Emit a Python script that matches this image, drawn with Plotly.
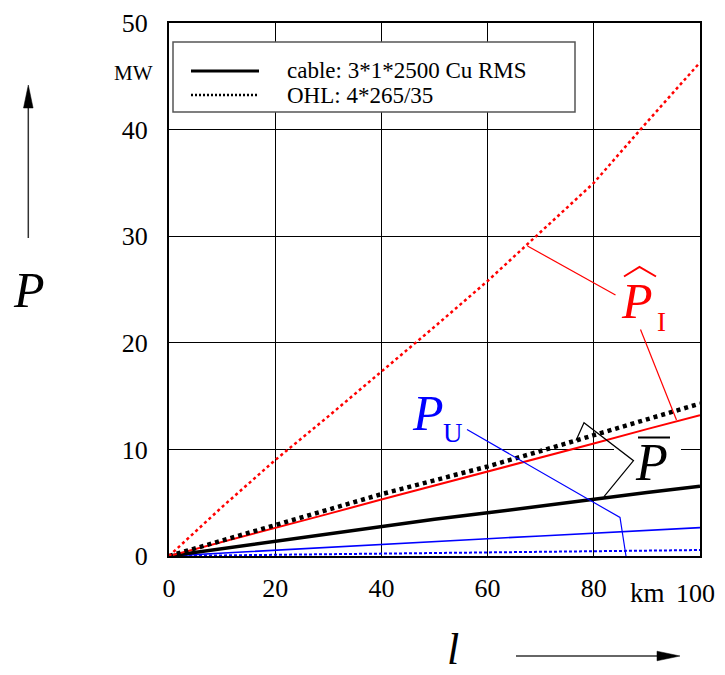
import plotly.graph_objects as go

# ---------------- data ----------------
length_km = [0, 10, 20, 30, 40, 50, 60, 70, 80, 90, 100]
p_i_ohl = [0, 4.6, 9.0, 13.1, 17.3, 21.5, 25.8, 30.4, 35.0, 40.7, 46.3]       # red dotted
p_i_cable = [0, 1.3, 2.65, 3.95, 5.3, 6.6, 7.9, 9.25, 10.55, 11.9, 13.2]      # red solid
p_bar_ohl = [0, 1.45, 2.95, 4.35, 5.8, 7.1, 8.4, 9.85, 11.3, 12.8, 14.3]      # black dotted
p_bar_cable = [0, 0.7, 1.4, 2.1, 2.8, 3.45, 4.05, 4.7, 5.3, 5.95, 6.55]       # black solid
p_u_cable = [0, 0.28, 0.56, 0.83, 1.1, 1.36, 1.62, 1.88, 2.14, 2.4, 2.66]     # blue solid
p_u_ohl = [0, 0.05, 0.11, 0.16, 0.22, 0.28, 0.33, 0.39, 0.45, 0.5, 0.56]      # blue dotted

x_ticks = [0, 20, 40, 60, 80]
x_last_tick = 100
y_ticks = [0, 10, 20, 30, 40, 50]
legend_labels = ["cable: 3*1*2500 Cu RMS", "OHL: 4*265/35"]

# ---------------- geometry helpers ----------------
OFF = 8                      # page body margin
W, H = 709, 667
ML, MR, MT, MB = 161, 17, 15, 119
PW, PH = W - ML - MR, H - MT - MB
XMAX, YMAX = 100, 50


def dx(sx):
    return (sx - OFF - ML) / PW * XMAX


def dy(sy):
    return (H - MB - (sy - OFF)) / PH * YMAX


def paperx(sx):
    return (sx - OFF - ML) / PW


def papery(sy):
    return (H - MB - (sy - OFF)) / PH


SERIF = "Liberation Serif, Times New Roman, serif"
RED, BLUE, BLACK = "#ff0000", "#0000ff", "#000000"

fig = go.Figure()


def add_line(y, color, width, dash):
    fig.add_trace(go.Scatter(x=length_km, y=y, mode="lines",
                             line=dict(color=color, width=width, dash=dash),
                             showlegend=False, hoverinfo="skip"))


add_line(p_u_ohl, BLUE, 2, "3px,2px")
add_line(p_u_cable, BLUE, 1.6, "solid")
add_line(p_bar_cable, BLACK, 3.5, "solid")
add_line(p_i_cable, RED, 2, "solid")
add_line(p_bar_ohl, BLACK, 4.5, "4px,4px")
add_line(p_i_ohl, RED, 2.5, "3px,3px")

shapes = []
annotations = []

# legend box
shapes.append(dict(type="rect", xref="paper", yref="paper", layer="above",
                   x0=paperx(173), x1=paperx(575), y0=papery(112), y1=papery(42),
                   fillcolor="white", line=dict(color="#555555", width=1.5)))
shapes.append(dict(type="line", xref="paper", yref="paper", layer="above",
                   x0=paperx(191), x1=paperx(259), y0=papery(71), y1=papery(71),
                   line=dict(color=BLACK, width=3)))
shapes.append(dict(type="line", xref="paper", yref="paper", layer="above",
                   x0=paperx(191), x1=paperx(259), y0=papery(95), y1=papery(95),
                   line=dict(color=BLACK, width=2.5, dash="2px,2px")))
for lbl, sy in zip(legend_labels, [71, 95]):
    annotations.append(dict(text=lbl, xref="paper", yref="paper", x=paperx(285), y=papery(sy),
                            xanchor="left", yanchor="middle", showarrow=False,
                            font=dict(family=SERIF, size=23, color=BLACK)))

# white box behind P-bar label (gridline break)
shapes.append(dict(type="rect", xref="x", yref="y", layer="above",
                   x0=dx(614), x1=dx(681), y0=dy(482), y1=dy(443),
                   fillcolor="white", line=dict(width=0)))


def path(points, color, width):
    d = "M " + " L ".join(f"{dx(sx)},{dy(sy)}" for sx, sy in points)
    shapes.append(dict(type="path", xref="x", yref="y", layer="above", path=d,
                       line=dict(color=color, width=width)))


# leader lines
path([(527.5, 246), (615.5, 295)], RED, 1.2)
path([(640.5, 329.5), (676.5, 420)], RED, 1.2)
path([(467, 429.5), (620, 517.5), (626, 556)], BLUE, 1.2)
path([(576, 440.5), (584, 422.7), (633.5, 460.7), (604, 496.7)], BLACK, 1.2)
# hat over P_I and bar over P
path([(624, 276.5), (639.5, 267), (656, 276.5)], RED, 2)
path([(638, 437.5), (670, 437.5)], BLACK, 2)


# label glyphs
def label(text, sx, sy, size, color, italic=True):
    t = f"<i>{text}</i>" if italic else text
    annotations.append(dict(text=t, xref="paper", yref="paper", x=paperx(sx), y=papery(sy),
                            xanchor="center", yanchor="middle", showarrow=False,
                            font=dict(family=SERIF, size=size, color=color)))


label("P", 637, 301, 50, RED)
label("I", 661, 322, 27, RED, italic=False)
label("P", 428, 413, 50, BLUE)
label("U", 453, 433, 27, BLUE, italic=False)
label("P", 651, 462, 52, BLACK)
label("P", 29, 290, 50, BLACK)
label("l", 453, 649, 44, BLACK)
label("MW", 133, 73, 21, BLACK, italic=False)
label("km", 647, 593, 27, BLACK, italic=False)
# last x tick label, nudged left so it stays inside the page
annotations.append(dict(text=str(x_last_tick), xref="paper", yref="paper",
                        x=paperx(695), y=papery(593), xanchor="center", yanchor="middle",
                        showarrow=False, font=dict(family=SERIF, size=26, color=BLACK)))

# axis arrows
shapes.append(dict(type="line", xref="paper", yref="paper", layer="above",
                   x0=paperx(28.3), x1=paperx(28.3), y0=papery(238), y1=papery(105),
                   line=dict(color="#333333", width=1.5)))
shapes.append(dict(type="path", xref="paper", yref="paper", layer="above",
                   path=f"M {paperx(28.3)},{papery(85)} L {paperx(23.5)},{papery(108)} L {paperx(33.1)},{papery(108)} Z",
                   fillcolor=BLACK, line=dict(color=BLACK, width=0.5)))
shapes.append(dict(type="line", xref="paper", yref="paper", layer="above",
                   x0=paperx(516), x1=paperx(660), y0=papery(656), y1=papery(656),
                   line=dict(color="#333333", width=1.5)))
shapes.append(dict(type="path", xref="paper", yref="paper", layer="above",
                   path=f"M {paperx(680)},{papery(656)} L {paperx(657)},{papery(651.2)} L {paperx(657)},{papery(660.8)} Z",
                   fillcolor=BLACK, line=dict(color=BLACK, width=0.5)))

fig.update_layout(
    width=W, height=H,
    margin=dict(l=ML, r=MR, t=MT, b=MB, pad=0),
    paper_bgcolor="white", plot_bgcolor="white",
    shapes=shapes, annotations=annotations,
    showlegend=False,
    font=dict(family=SERIF, size=26, color=BLACK),
    xaxis=dict(range=[0, XMAX], tickvals=x_ticks + [x_last_tick],
               ticktext=[str(v) for v in x_ticks] + [""],
               showgrid=True, gridcolor=BLACK, gridwidth=1, automargin=False,
               showline=True, linecolor=BLACK, linewidth=2, mirror=True,
               ticks="", ticklabelstandoff=8, zeroline=False,
               tickfont=dict(family=SERIF, size=26, color=BLACK)),
    yaxis=dict(range=[0, YMAX], tickvals=y_ticks, ticktext=[str(v) for v in y_ticks],
               showgrid=True, gridcolor=BLACK, gridwidth=1, automargin=False,
               showline=True, linecolor=BLACK, linewidth=2, mirror=True,
               ticks="", ticklabelstandoff=14, zeroline=False,
               tickfont=dict(family=SERIF, size=26, color=BLACK)),
)

fig.write_html("out.html")
